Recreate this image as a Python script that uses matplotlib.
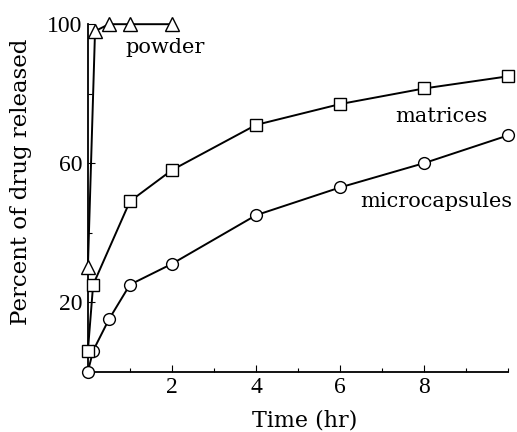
import matplotlib
matplotlib.use("Agg")
import matplotlib.pyplot as plt
from matplotlib.ticker import FixedLocator

plt.rcParams['font.family'] = ['Liberation Serif', 'DejaVu Serif']

# Data (time in hr, percent released)
t_powder = [0, 0.17, 0.5, 1, 2]
y_powder = [30, 98, 100, 100, 100]

t_matrix = [0, 0.125, 1, 2, 4, 6, 8, 10]
y_matrix = [6, 25, 49, 58, 71, 77, 81.5, 85]

t_micro = [0, 0.125, 0.5, 1, 2, 4, 6, 8, 10]
y_micro = [0, 6, 15, 25, 31, 45, 53, 60, 68]

x_major = [2, 4, 6, 8]
x_minor = [1, 3, 5, 7, 9, 10]
y_labels = [20, 60, 100]
y_minor = [40, 80]

fig = plt.figure(figsize=(5.17, 4.32), dpi=100)
ax = fig.add_axes([0.170, 0.140, 0.813, 0.804])

lw = 1.4
ax.plot(t_micro, y_micro, '-o', color='black', lw=lw, ms=8.5, mfc='white',
        mec='black', mew=1.0, zorder=3, clip_on=False)
ax.plot(t_matrix, y_matrix, '-s', color='black', lw=lw, ms=8, mfc='white',
        mec='black', mew=1.0, zorder=4, clip_on=False)
ax.plot(t_powder, y_powder, '-^', color='black', lw=lw, ms=10, mfc='white',
        mec='black', mew=1.0, zorder=5, clip_on=False)

ax.set_xlim(0, 10)
ax.set_ylim(0, 100)
for s in ['top', 'right']:
    ax.spines[s].set_visible(False)
for s in ['left', 'bottom']:
    ax.spines[s].set_linewidth(1.3)

ax.xaxis.set_major_locator(FixedLocator(x_major))
ax.xaxis.set_minor_locator(FixedLocator(x_minor))
ax.yaxis.set_major_locator(FixedLocator(y_labels))
ax.yaxis.set_minor_locator(FixedLocator(y_minor))
ax.tick_params(axis='both', which='major', direction='in', length=5, width=0.8,
               labelsize=17, pad=4)
ax.tick_params(axis='both', which='minor', direction='in', length=3, width=0.8)

lab_font = ['DejaVu Serif']
ax.set_xlabel('Time (hr)', fontsize=16, family=lab_font)
ax.xaxis.set_label_coords(0.515, -0.11)
ax.set_ylabel('Percent of drug released', fontsize=16.5, family=lab_font)
ax.yaxis.set_label_coords(-0.133, 0.545)

ax.text(1.83, 91.6, 'powder', fontsize=15, ha='center', va='baseline', family=lab_font)
ax.text(8.4, 71.9, 'matrices', fontsize=15, ha='center', va='baseline', family=lab_font)
ax.text(8.3, 47.4, 'microcapsules', fontsize=15, ha='center', va='baseline', family=lab_font)

fig.savefig('out.png', dpi=100)
